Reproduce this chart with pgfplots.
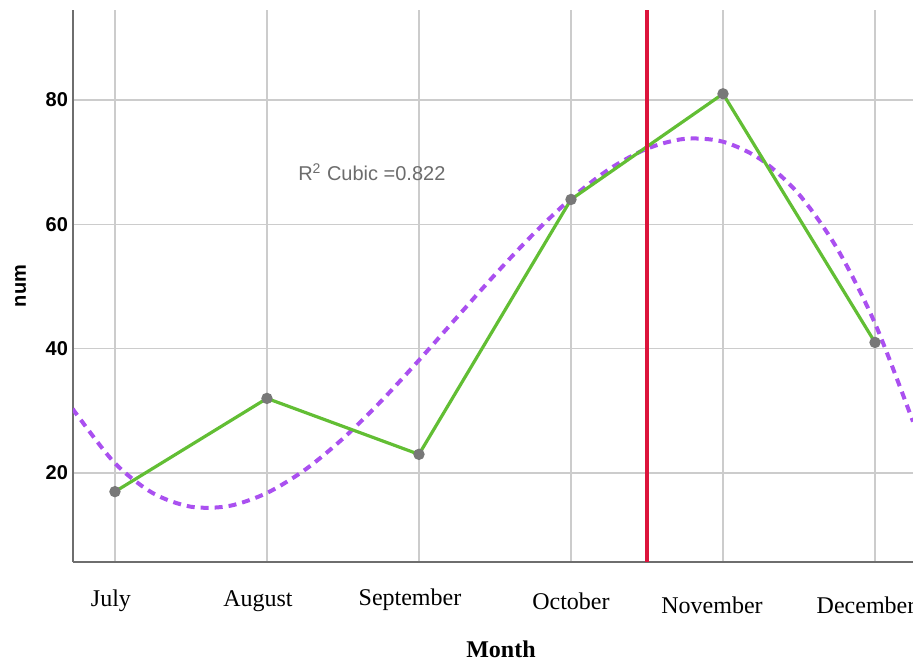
\documentclass[border=0pt]{standalone}
\usepackage{fontspec}
\setmainfont{Liberation Serif}
\newfontfamily\arial{Liberation Sans}
\usepackage{pgfplots}
\pgfplotsset{compat=1.18}
\definecolor{gridc}{RGB}{204,204,204}
\definecolor{axc}{RGB}{110,110,110}
\definecolor{greenl}{RGB}{98,190,52}
\definecolor{purp}{RGB}{170,80,240}
\definecolor{redl}{RGB}{220,20,60}
\definecolor{markc}{RGB}{120,120,120}
\begin{document}
\begin{tikzpicture}
\begin{axis}[
  name=ax,
  scale only axis,
  width=420pt, height=276pt,
  xmin=-0.276, xmax=5.25,
  ymin=5.68, ymax=94.48,
  axis x line*=bottom, axis y line*=left,
  axis line style={axc, line width=0.9pt, -},
  xtick={0,1,2,3,4,5},
  xticklabels={July\kern4pt,August\kern9pt,\raisebox{0.5pt}{September\kern9pt},\raisebox{-1.5pt}{October},\raisebox{-3.5pt}{November\kern11pt},\raisebox{-3.5pt}{December\kern9pt}},
  ytick={20,40,60,80},
  major tick length=0pt,
  grid=major,
  major grid style={gridc, line width=0.7pt},
  xticklabel style={font=\fontsize{12}{14}\selectfont, text height=8.5pt, text depth=2.5pt, yshift=-10pt},
  yticklabel style={font=\arial\bfseries\fontsize{10}{12}\selectfont, xshift=1pt},
  /pgf/number format/assume math mode=true,
  xlabel={\textbf{Month}},
  xlabel style={font=\fontsize{12}{14}\selectfont, yshift=-8pt, xshift=4pt},
  ylabel={\arial\bfseries num},
  ylabel style={font=\fontsize{10}{12}\selectfont, yshift=3pt},
  clip=true,
]
\addplot[purp, line width=2pt, dash pattern=on 4pt off 3pt, smooth] coordinates {
(-0.276,30.37) (-0.25,29.37) (0,21.57) (0.25,16.75) (0.5,14.57) (0.75,14.69)
(1,16.79) (1.25,20.51) (1.5,25.54) (1.75,31.53) (2,38.14) (2.25,45.05)
(2.5,51.91) (2.75,58.38) (3,64.14) (3.25,68.85) (3.5,72.17) (3.75,73.76)
(4,73.29) (4.25,70.42) (4.5,64.82) (4.75,56.15) (5,44.07) (5.25,28.26)
};
\addplot[greenl, line width=1.6pt, mark=*, mark size=2pt, mark options={fill=markc, draw=markc}] coordinates {
(0,17) (1,32) (2,23) (3,64) (4,81) (5,41)
};
\addplot[redl, line width=1.8pt] coordinates {(3.5,5.68) (3.5,94.48)};
\node[text=markc!90!black, font=\arial\fontsize{10}{12}\selectfont] at (axis cs:1.69,68.4) {R\textsuperscript{2} Cubic =0.822};
\end{axis}
\pgfresetboundingbox
\useasboundingbox ([xshift=-36.5pt,yshift=5pt]ax.north west) rectangle ([yshift=-51pt]ax.south east);
\end{tikzpicture}
\end{document}
